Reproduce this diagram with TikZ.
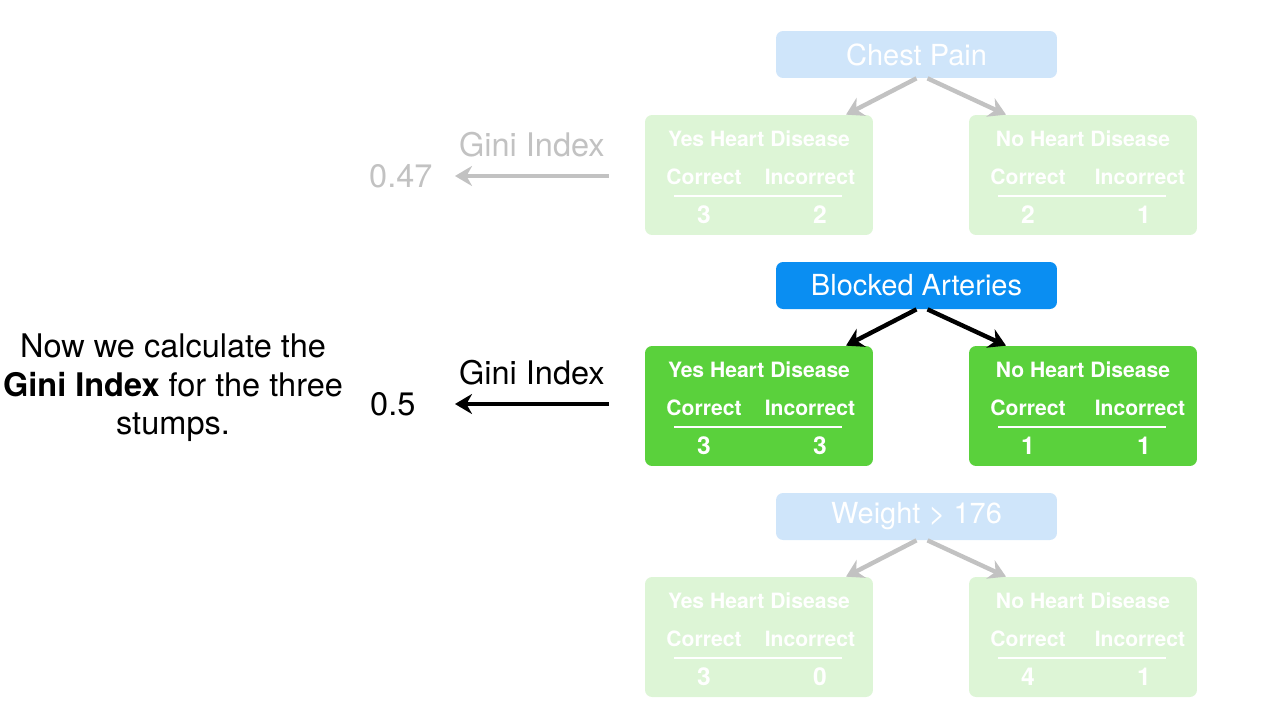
\documentclass[tikz,border=0pt]{standalone}
\usepackage{fontspec}
\setmainfont{TeX Gyre Heros}
\usetikzlibrary{arrows.meta,positioning}
\definecolor{StumpBlue}{HTML}{0A8EF2}
\definecolor{StumpGreen}{HTML}{5AD13C}
\definecolor{FadeBlue}{HTML}{CFE5FA}
\definecolor{FadeGreen}{HTML}{DDF5D6}
\definecolor{FadeGrey}{HTML}{C2C2C2}
\tikzset{root/.style={rounded corners=4pt,minimum width=5.62cm,minimum height=0.94cm,
text=white,font=\fontsize{16.5}{18}\selectfont},
leaf/.style={rounded corners=4pt,minimum width=4.56cm,minimum height=2.4cm},
cell/.style={text=white,inner sep=0pt,font=\fontsize{12}{14}\selectfont\bfseries},
count/.style={cell,font=\fontsize{14}{16}\selectfont\bfseries},
branch/.style={-{Stealth[length=3.4mm,width=4mm]},line width=2.5pt},
gini/.style={-{Stealth[length=3.4mm,width=4mm]},line width=2.2pt},
note/.style={font=\fontsize{18.5}{22}\selectfont}}

\begin{document}
\begin{tikzpicture}[x=0.02cm,y=-0.02cm]
\useasboundingbox (0,0) rectangle (1280,720);
% three stumps
\foreach \s/\off/\title/\a/\b/\c/\d/\rc/\lc/\ac in {
  cp/0/Chest Pain/3/2/2/1/FadeBlue/FadeGreen/FadeGrey,
  ba/231/Blocked Arteries/3/3/1/1/StumpBlue/StumpGreen/black,
  wt/462/Weight > 176/3/0/4/1/FadeBlue/FadeGreen/FadeGrey}{
  \node[root,fill=\rc](\s) at (916.5,54.5+\off){\title};
  \node[leaf,fill=\lc](\s-yes) at (759,175+\off){};
  \node[leaf,fill=\lc](\s-no) at (1083,175+\off){};
  \foreach \side/\Side/\p/\q/\ix in {yes/Yes/\a/\b/51,no/No/\c/\d/57}{
    \node[cell](\s-\side-t) at ([shift={(0,-36)}]\s-\side.center){\Side\ Heart Disease};
    \node[cell](\s-\side-c) at ([shift={(-55,2)}]\s-\side.center){Correct};
    \node[cell](\s-\side-i) at ([shift={(\ix,2)}]\s-\side.center){Incorrect};
    \draw[white,line width=1.3pt]([shift={(-85,21)}]\s-\side.center)--([shift={(83,21)}]\s-\side.center);
    \node[count](\s-\side-p) at ([shift={(-55,40)}]\s-\side.center){\p};
    \node[count](\s-\side-q) at ([shift={(61,40)}]\s-\side.center){\q};
  }
  \draw[branch,draw=\ac,fill=\ac](\s.south)--([shift={(87,0)}]\s-yes.north);
  \draw[branch,draw=\ac,fill=\ac]([shift={(11,0)}]\s.south)--([shift={(-77,0)}]\s-no.north);
}
% gini values
\node[note,anchor=west,text=FadeGrey](cp-val) at (363,176){0.47};
\coordinate(cp-tip) at (455,176);
\draw[gini,FadeGrey]([shift={(-36,1)}]cp-yes.west)--node[note,above=6.5pt,text=FadeGrey]{Gini Index}(cp-tip);
\node[note,anchor=west](ba-val) at (364,404){0.5};
\coordinate(ba-tip) at (455,404);
\draw[gini]([shift={(-36,-2)}]ba-yes.west)--node[note,above=6.5pt]{Gini Index}(ba-tip);
\node[note,align=center](intro) at (173,388){Now we calculate the\\\textbf{Gini Index} for the three\\stumps.};
\end{tikzpicture}
\end{document}
